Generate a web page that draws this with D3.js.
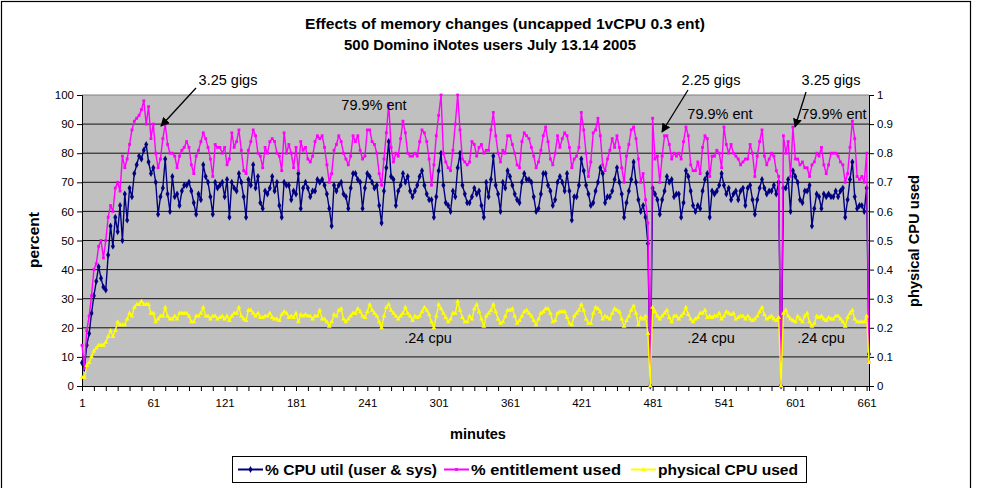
<!DOCTYPE html>
<html><head><meta charset="utf-8">
<script src="https://cdn.jsdelivr.net/npm/d3@7"></script>
<style>body{margin:0;background:#fff;overflow:hidden}</style>
</head><body><svg id="c" width="984" height="488"></svg>
<script>
// ---- data (samples every 2 minutes, minutes 1,3,5,...,663) ----
const cpuUtil = [
8,6,14,18,25,31,36,41,37,34,33,45,55,48,58,53,62,50,66,57,68,65,73,76,79,78,81,83,77,73,
75,70,59,65,68,78,66,60,72,65,66,62,67,69,69,70,67,63,59,66,64,76,72,70,65,59,70,68,69,70,65,71,58,70,68,67,73,70,65,58,71,69,76,68,72,63,61,67,66,68,72,67,70,62,
58,70,69,69,64,67,66,73,61,68,70,68,65,67,67,71,70,71,69,66,61,55,69,67,69,70,66,65,61,68,73,73,71,70,61,68,73,72,70,68,69,62,56,67,75,84,72,71,62,67,69,73,70,72,67,65,67,69,72,74,69,66,64,64,58,65,74,80,69,63,62,60,67,65,75,80,69,66,63,63,65,68,66,
67,62,58,70,65,71,79,69,66,60,70,68,74,72,69,66,64,63,70,73,71,71,70,65,60,61,66,73,73,69,67,62,64,70,72,70,67,73,67,57,65,65,69,78,74,69,66,62,63,67,70,75,73,63,65,65,67,71,75,70,66,58,63,67,71,77,70,64,60,62,58,49,0,68,66,64,59,64,67,72,70,71,65,
66,66,58,63,74,72,67,62,60,62,61,67,71,73,58,67,66,67,69,73,69,66,68,64,66,67,64,67,68,62,68,69,64,59,64,68,71,68,66,67,67,69,66,70,0,68,68,71,60,74,72,70,64,63,67,67,69,55,61,66,65,61,66,65,66,65,65,67,65,67,68,58,64,71,77,65,61,62,62,60,68,11
];
const entitlementUsed = [
14,6,19,24,31,40,42,48,50,44,50,58,62,60,68,70,67,79,75,78,83,88,91,92,93,95,98,90,96,85,
90,80,75,78,85,90,83,80,80,79,75,79,81,82,84,82,76,73,79,81,84,87,85,82,78,72,83,82,82,80,82,76,78,87,82,84,88,81,74,73,81,84,88,86,80,79,75,82,80,84,85,84,80,79,
74,87,80,83,80,75,82,74,84,81,82,78,77,79,84,86,85,86,82,76,70,73,81,83,86,84,80,78,76,79,86,84,86,81,78,79,88,88,84,83,80,73,69,78,87,97,82,77,80,79,85,91,87,80,79,79,80,79,84,88,87,84,78,69,76,86,93,100,80,77,75,74,81,90,100,88,78,77,76,77,84,83,79,
82,83,80,81,81,88,94,86,80,77,81,80,86,86,83,80,76,75,84,87,86,85,82,79,75,77,81,86,89,84,78,76,80,86,82,85,87,86,82,75,78,79,82,94,88,80,72,77,87,88,92,86,76,74,78,81,85,82,86,82,75,70,79,83,88,89,85,78,70,73,64,56,0,92,78,79,70,79,86,86,83,78,80,
79,80,78,84,89,86,76,74,74,77,73,82,86,85,72,79,79,81,80,75,89,83,80,83,80,79,78,76,77,78,78,83,80,72,79,84,88,79,76,78,80,79,74,72,0,86,80,84,72,89,78,78,76,77,75,75,72,76,77,80,79,82,76,73,76,80,80,80,79,77,76,70,73,82,91,85,72,71,72,70,80,8
];
const physicalCpu = [
0.03,0.03,0.07,0.08,0.10,0.12,0.13,0.14,0.14,0.14,0.15,0.17,0.19,0.17,0.19,0.22,0.21,0.21,0.21,0.23,0.25,0.24,0.27,0.28,0.28,0.29,0.28,0.28,0.28,0.25,
0.25,0.22,0.23,0.24,0.24,0.27,0.24,0.23,0.23,0.24,0.23,0.25,0.25,0.25,0.25,0.24,0.22,0.22,0.24,0.24,0.25,0.27,0.24,0.24,0.23,0.24,
0.24,0.23,0.235,0.24,0.23,0.24,0.225,0.24,0.25,0.25,0.27,0.24,0.23,0.225,0.26,0.26,0.25,0.24,0.25,0.235,0.235,0.24,0.24,0.25,0.235,0.23,0.23,0.225,0.245,0.255,0.25,0.235,0.24,0.235,0.25,0.22,0.245,0.24,0.245,0.24,0.24,0.23,0.24,0.24,0.26,0.23,0.23,0.22,0.205,0.22,0.245,0.24,0.26,0.265,
0.23,0.22,0.23,0.24,0.25,0.25,0.265,0.255,0.24,0.235,0.255,0.28,0.26,0.25,0.24,0.22,0.2,0.24,0.27,0.28,0.26,0.25,0.24,0.23,0.24,0.25,0.27,0.25,0.24,0.225,0.24,0.235,0.24,0.255,0.27,0.26,0.245,0.22,0.2,0.24,0.28,0.265,0.25,0.235,0.22,0.23,0.25,0.25,0.29,0.26,0.235,0.22,0.22,0.24,0.23,
0.265,0.28,0.255,0.23,0.205,0.24,0.25,0.26,0.28,0.255,0.23,0.215,0.22,0.24,0.26,0.26,0.265,0.24,0.215,0.225,0.24,0.255,0.26,0.25,0.24,0.225,0.21,0.23,0.25,0.255,0.265,0.265,0.25,0.22,0.225,0.25,0.255,0.255,0.255,0.235,0.215,0.21,0.24,0.25,0.26,0.28,0.26,0.23,0.215,0.215,0.25,0.27,0.265,0.255,0.23,
0.24,0.235,0.23,0.25,0.265,0.26,0.255,0.23,0.205,0.225,0.24,0.26,0.275,0.25,0.21,0.235,0.23,0.24,0.18,0,0.27,0.255,0.24,0.23,0.24,0.25,0.26,0.235,0.22,0.24,0.24,0.23,0.24,0.25,0.27,0.245,0.23,0.22,0.23,0.235,0.25,0.25,0.26,0.235,0.24,0.235,0.24,0.24,0.25,0.23,0.24,0.255,0.25,0.245,
0.25,0.23,0.235,0.24,0.24,0.23,0.24,0.23,0.225,0.23,0.24,0.255,0.27,0.245,0.23,0.235,0.24,0.23,0.225,0.235,0,0.25,0.26,0.24,0.23,0.225,0.22,0.24,0.23,0.22,0.24,0.25,0.22,0.205,0.215,0.24,0.235,0.24,0.23,0.225,0.235,0.23,0.23,0.24,0.24,0.23,0.22,0.205,0.235,0.25,0.26,0.23,0.22,0.22,0.22,0.22,0.24,0.08
];
const minutes = d3.range(1, 664, 2);              // category (minute) for each sample
const xTickLabels = [1,61,121,181,241,301,361,421,481,541,601,661];
const leftTicks = [0,10,20,30,40,50,60,70,80,90,100];
const rightTicks = [0,0.1,0.2,0.3,0.4,0.5,0.6,0.7,0.8,0.9,1];
const seriesNames = ["% CPU util (user & sys)", "% entitlement used", "physical CPU used"];
const seriesColors = ["#000080", "#FF00FF", "#FFFF00"];

// ---- drawing ----
const FONT = "'Liberation Sans', Arial, Helvetica, sans-serif";
const svg = d3.select("#c").style("font-family", FONT);
const L = 82, R = 869, T = 95, B = 386;
const x = d3.scaleLinear().domain([1, 663]).range([L, R]);
const y = d3.scaleLinear().domain([0, 100]).range([B, T]);
const y2 = d3.scaleLinear().domain([0, 1]).range([B, T]);

svg.append("rect").attr("x", 1.5).attr("y", 1.5).attr("width", 969).attr("height", 500)
  .attr("fill", "#fff").attr("stroke", "#000").attr("stroke-width", 1.2);

// plot area
svg.append("rect").attr("x", L).attr("y", T).attr("width", R - L).attr("height", B - T).attr("fill", "#C0C0C0");
svg.append("g").selectAll("line").data(leftTicks.filter(t => t > 0)).join("line")
  .attr("x1", L).attr("x2", R).attr("y1", d => y(d)).attr("y2", d => y(d))
  .attr("stroke", d => d === 100 ? "#808080" : "#111").attr("stroke-width", 1);

// axes
const gl = svg.append("g").attr("transform", `translate(${L},0)`)
  .call(d3.axisLeft(y).tickValues(leftTicks).tickSize(5).tickPadding(3).tickFormat(d3.format("d")));
const gr = svg.append("g").attr("transform", `translate(${R},0)`)
  .call(d3.axisRight(y2).tickValues(rightTicks).tickSize(5).tickPadding(3).tickFormat(d => String(d)));
const gb = svg.append("g").attr("transform", `translate(0,${B})`)
  .call(d3.axisBottom(x).tickValues(d3.range(1, 664, 10)).tickSize(5).tickPadding(8)
    .tickFormat(d => xTickLabels.includes(d) ? String(d) : ""));
[gl, gr, gb].forEach(g => {
  g.selectAll("path.domain").attr("stroke", "#000").attr("stroke-width", 1);
  g.selectAll(".tick line").attr("stroke", "#000");
  g.selectAll("text").attr("font-family", FONT).attr("font-size", 11.5).attr("fill", "#000");
});

// series
const seriesData = [cpuUtil, entitlementUsed, physicalCpu];
const scales = [y, y, y2];
const symbols = [d3.symbolDiamond, d3.symbolSquare, d3.symbolTriangle];
const symSizes = [14, 8, 10];
seriesData.forEach((arr, k) => {
  const line = d3.line().x((d, i) => x(minutes[i])).y(d => scales[k](d));
  svg.append("path").datum(arr).attr("d", line).attr("fill", "none")
    .attr("stroke", seriesColors[k]).attr("stroke-width", 1.4).attr("stroke-linejoin", "round");
  svg.append("g").selectAll("path").data(arr).join("path")
    .attr("transform", (d, i) => `translate(${x(minutes[i])},${scales[k](d)})`)
    .attr("d", d3.symbol(symbols[k], symSizes[k])).attr("fill", seriesColors[k]);
});

// titles
function bold(txt, xx, yy, size, len, rot) {
  const t = svg.append("text").attr("text-anchor", "middle").attr("font-weight", "bold")
    .attr("font-size", size).text(txt);
  if (rot) t.attr("transform", `translate(${xx},${yy}) rotate(-90)`);
  else t.attr("x", xx).attr("y", yy);
  if (len) t.attr("textLength", len).attr("lengthAdjust", "spacingAndGlyphs");
  return t;
}
bold("Effects of memory changes (uncapped 1vCPU 0.3 ent)", 505, 29, 14.5, 400);
bold("500 Domino iNotes users July 13.14 2005", 490, 50, 14.5, 292);
bold("percent", 39, 240, 15, 56, true);
bold("physical CPU used", 919, 241, 15, 132, true);
bold("minutes", 478, 439, 15, 56);

// annotations
const defs = svg.append("defs");
defs.append("marker").attr("id", "ah").attr("viewBox", "0 0 10 10").attr("refX", 9).attr("refY", 5)
  .attr("markerWidth", 7).attr("markerHeight", 7).attr("orient", "auto")
  .append("path").attr("d", "M0,0L10,5L0,10Z").attr("fill", "#000");
const notes = [
  {t: "3.25 gigs", x: 228, y: 85}, {t: "2.25 gigs", x: 711, y: 85}, {t: "3.25 gigs", x: 831, y: 85},
  {t: "79.9% ent", x: 374, y: 110}, {t: "79.9% ent", x: 720, y: 119}, {t: "79.9% ent", x: 834, y: 119},
  {t: ".24 cpu", x: 428, y: 343}, {t: ".24 cpu", x: 711, y: 343}, {t: ".24 cpu", x: 821, y: 343}
];
svg.append("g").selectAll("text").data(notes).join("text")
  .attr("x", d => d.x).attr("y", d => d.y).attr("text-anchor", "middle")
  .attr("font-size", 14.5).attr("fill", "#000").text(d => d.t);
const arrows = [[196, 88, 161, 126], [688, 90, 662, 132], [806, 92, 795, 127]];
svg.append("g").selectAll("line").data(arrows).join("line")
  .attr("x1", d => d[0]).attr("y1", d => d[1]).attr("x2", d => d[2]).attr("y2", d => d[3])
  .attr("stroke", "#000").attr("stroke-width", 1.3).attr("marker-end", "url(#ah)");

// legend
const lg = svg.append("g");
lg.append("rect").attr("x", 232.5).attr("y", 456.5).attr("width", 574).attr("height", 26)
  .attr("fill", "#fff").attr("stroke", "#000");
const legX = [238, 444, 631];
const legLen = [172, 150, 140];
seriesNames.forEach((n, k) => {
  const g = lg.append("g").attr("transform", `translate(${legX[k]},469.5)`);
  g.append("line").attr("x1", 0).attr("x2", 25).attr("stroke", seriesColors[k]).attr("stroke-width", 2);
  g.append("path").attr("transform", "translate(12.5,0)").attr("d", d3.symbol(symbols[k], symSizes[k])).attr("fill", seriesColors[k]);
  g.append("text").attr("x", 27).attr("y", 5).attr("font-weight", "bold").attr("font-size", 14)
    .attr("textLength", legLen[k]).attr("lengthAdjust", "spacingAndGlyphs").text(n);
});
</script></body></html>
